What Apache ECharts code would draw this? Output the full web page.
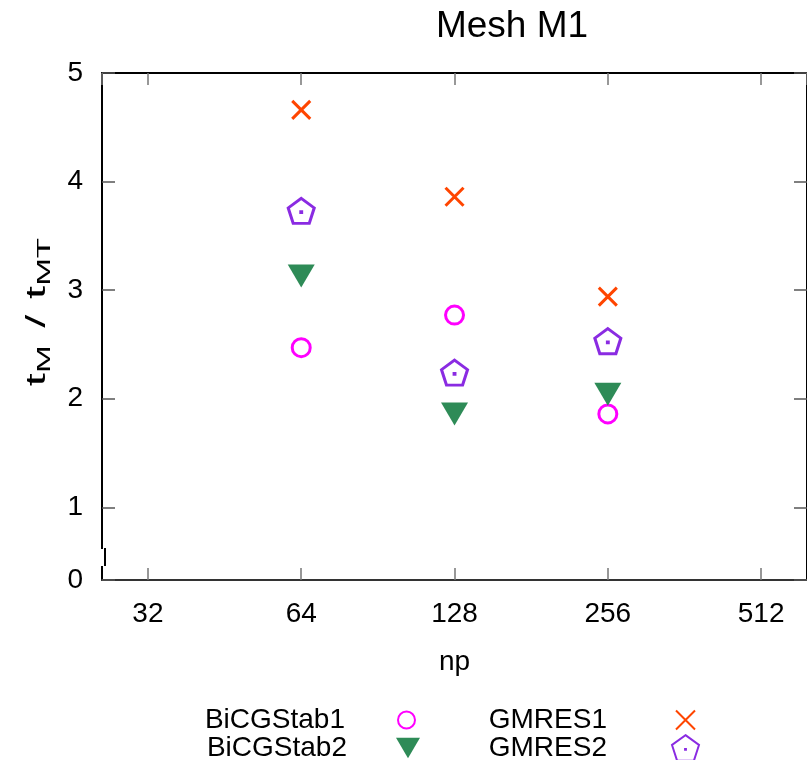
<!DOCTYPE html>
<html>
<head>
<meta charset="utf-8">
<script src="https://cdn.jsdelivr.net/npm/echarts@6/dist/echarts.min.js"></script>
<style>
  html, body { margin: 0; padding: 0; background: #fff; }
  #chart { width: 807px; height: 760px; }
</style>
</head>
<body>
<div id="chart"></div>
<script>
// Speed-up ratio t_M / t_MT against number of processes, Mesh M1
const npValues = [64, 128, 256];
const bicgstab1 = [2.47, 2.77, 1.86];
const bicgstab2 = [3.13, 1.86, 2.04];
const gmres1 = [4.66, 3.86, 2.94];
const gmres2 = [3.73, 2.24, 2.53];
const xTickLabels = [32, 64, 128, 256, 512];
const yTickLabels = [0, 1, 2, 3, 4, 5];

const FONT = '"Liberation Sans", Arial, Helvetica, sans-serif';

const pentagonPath = 'path://M0,-100L95.1,-30.9L58.8,80.9L-58.8,80.9L-95.1,-30.9ZM-3,-3L3,-3L3,3L-3,3Z';
const crossPath = 'path://M0,0L10,10M10,0L0,10';
const downTrianglePath = 'path://M0,0L20,0L10,17Z';

function pairs(ys) {
  return npValues.map((x, i) => [x, ys[i]]);
}

// one legend box per entry: label text, then the marker to its right
function legendEntry(name, right, top, size, gap) {
  return {
    data: [name],
    orient: 'horizontal',
    align: 'right',
    right: right,
    top: top,
    itemWidth: size[0],
    itemHeight: size[1],
    textStyle: { fontFamily: FONT, fontSize: 28, color: '#000', padding: [0, gap, 0, 0] }
  };
}

const chart = echarts.init(document.getElementById('chart'), null, { renderer: 'canvas' });

const yMin = 0.33;

const option = {
  backgroundColor: '#ffffff',
  animation: false,
  title: {
    text: 'Mesh M1',
    left: 507,
    top: 3,
    textAlign: 'center',
    textStyle: { fontFamily: FONT, fontSize: 37, fontWeight: 'normal', color: '#000' }
  },
  grid: { left: 102, top: 73, right: -3, bottom: 180 },
  xAxis: [
    {
      type: 'log',
      logBase: 2,
      min: 26,
      max: 630,
      name: 'np',
      nameLocation: 'middle',
      nameGap: 68,
      nameTextStyle: { fontFamily: FONT, fontSize: 28, color: '#000' },
      axisLine: { show: true, lineStyle: { color: '#333', width: 2 } },
      axisTick: { show: true, inside: true, length: 12, lineStyle: { color: '#777', width: 1.5 } },
      axisLabel: {
        fontFamily: FONT, fontSize: 28, color: '#000', margin: 20,
        showMinLabel: false, showMaxLabel: false,
        formatter: v => {
          const r = Math.round(v);
          return xTickLabels.indexOf(r) >= 0 ? String(r) : '';
        }
      },
      splitLine: { show: false },
      minorTick: { show: false }
    },
    {
      type: 'log',
      logBase: 2,
      min: 26,
      max: 630,
      position: 'top',
      axisLine: { show: true, lineStyle: { color: '#000', width: 2 } },
      axisTick: { show: true, inside: true, length: 12, lineStyle: { color: '#777', width: 1.5 } },
      axisLabel: { show: false },
      splitLine: { show: false }
    }
  ],
  yAxis: [
    {
      type: 'value',
      min: yMin,
      max: 5,
      axisLine: { show: true, lineStyle: { color: '#000', width: 2 } },
      axisTick: { show: true, inside: true, length: 13, lineStyle: { color: '#555', width: 1.5 } },
      axisLabel: {
        fontFamily: FONT, fontSize: 28, color: '#000', margin: 19,
        formatter: v => (v < 0.5 ? String(yTickLabels[0]) : String(Math.round(v)))
      },
      splitLine: { show: false }
    },
    {
      type: 'value',
      min: yMin,
      max: 5,
      position: 'right',
      axisLine: { show: true, lineStyle: { color: '#000', width: 2 } },
      axisTick: { show: true, inside: true, length: 13, lineStyle: { color: '#555', width: 1.5 } },
      axisLabel: { show: false },
      splitLine: { show: false }
    }
  ],
  legend: [
    legendEntry('BiCGStab1', 386, 701, [17, 17], 48),
    legendEntry('BiCGStab2', 382, 729, [24, 21], 44),
    legendEntry('GMRES1', 106, 701, [19, 19], 64),
    legendEntry('GMRES2', 102, 729, [27, 26], 60)
  ],
  series: [
    {
      name: 'BiCGStab1',
      type: 'scatter',
      data: pairs(bicgstab1),
      symbol: 'circle',
      symbolSize: 18,
      itemStyle: { color: 'rgba(0,0,0,0)', borderColor: '#ff00ff', borderWidth: 3, opacity: 1 }
    },
    {
      name: 'BiCGStab2',
      type: 'scatter',
      data: pairs(bicgstab2),
      symbol: downTrianglePath,
      symbolSize: [27, 23],
      itemStyle: { color: '#2e8b57', opacity: 1 }
    },
    {
      name: 'GMRES1',
      type: 'scatter',
      data: pairs(gmres1),
      symbol: crossPath,
      symbolSize: 18,
      itemStyle: { color: 'rgba(0,0,0,0)', borderColor: '#ff4500', borderWidth: 3, opacity: 1 }
    },
    {
      name: 'GMRES2',
      type: 'scatter',
      data: pairs(gmres2),
      symbol: pentagonPath,
      symbolSize: [26, 25],
      itemStyle: { color: 'rgba(0,0,0,0)', borderColor: '#8a2be2', borderWidth: 3, opacity: 1 }
    }
  ],
  graphic: [
    // y-axis title, rotated, with lettering stretched along its length
    {
      type: 'text',
      x: 38,
      y: 312,
      rotation: Math.PI / 2,
      scaleX: 1.75,
      style: {
        text: '{t|t}{s|M}{g|/}{t|t}{s|MT}',
        align: 'center',
        verticalAlign: 'middle',
        fill: '#000',
        font: '27px ' + FONT,
        rich: {
          t: { fontFamily: FONT, fontSize: 27, fill: '#000' },
          g: { fontFamily: FONT, fontSize: 27, fill: '#000', padding: [0, 9, 0, 10] },
          s: { fontFamily: FONT, fontSize: 19, fill: '#000', padding: [13, 0, 0, 0] }
        }
      }
    },
    // small jog in the left axis line near its foot
    { type: 'rect', shape: { x: 98, y: 549, width: 8, height: 17 }, style: { fill: '#fff' }, z: 100 },
    { type: 'line', shape: { x1: 105, y1: 548, x2: 105, y2: 566 }, style: { stroke: '#000', lineWidth: 2 }, z: 101 }
  ]
};

chart.setOption(option);
</script>
</body>
</html>
